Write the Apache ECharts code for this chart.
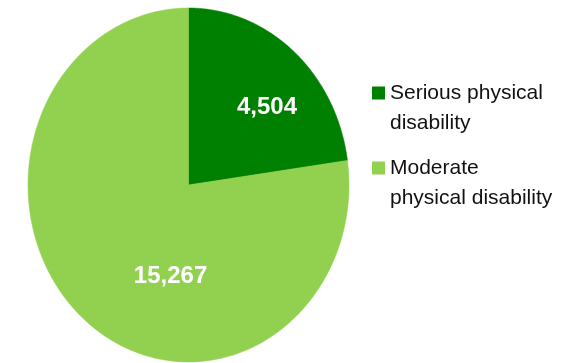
<!DOCTYPE html>
<html>
<head>
<meta charset="utf-8">
<script src="https://cdn.jsdelivr.net/npm/echarts@6/dist/echarts.min.js"></script>
<style>
  html, body { margin: 0; padding: 0; background: #fff; }
  #chart { width: 585px; height: 363px; }
</style>
</head>
<body>
<div id="chart"></div>
<script>
// Disability counts by severity
const categories = ['Serious physical\ndisability', 'Moderate\nphysical disability'];
const values = [4504, 15267];

// Slice colours and value-label anchors (unit-ellipse coordinates, x right / y up)
const sliceColors = ['#008000', '#92D050'];
const labelAnchors = [[0.489, 0.441], [-0.112, -0.514]];

const total = values.reduce((a, b) => a + b, 0);

// Angles measured clockwise from 12 o'clock, in radians
let acc = 0;
const slices = values.map(v => {
  const a0 = acc / total * Math.PI * 2;
  acc += v;
  const a1 = acc / total * Math.PI * 2;
  return [a0, a1, v];
});

function renderSlice(idx) {
  return function (params, api) {
    const a0 = api.value(0), a1 = api.value(1), v = api.value(2);
    const pts = [api.coord([0, 0])];
    const steps = Math.max(8, Math.ceil((a1 - a0) / (Math.PI / 360)));
    for (let k = 0; k <= steps; k++) {
      const t = a0 + (a1 - a0) * k / steps;
      pts.push(api.coord([Math.sin(t), Math.cos(t)]));
    }
    const lp = api.coord(labelAnchors[idx]);
    return {
      type: 'group',
      children: [
        {
          type: 'polygon',
          shape: { points: pts },
          style: { fill: sliceColors[idx], stroke: sliceColors[idx], lineWidth: 0.5 }
        },
        {
          type: 'text',
          x: lp[0],
          y: lp[1],
          z2: 10,
          style: {
            text: v.toLocaleString('en-US'),
            fill: '#ffffff',
            font: 'bold 24px "Liberation Sans", Arial, sans-serif',
            align: 'center',
            verticalAlign: 'middle'
          }
        }
      ]
    };
  };
}

const chart = echarts.init(document.getElementById('chart'), null, { renderer: 'canvas' });

chart.setOption({
  animation: false,
  backgroundColor: '#ffffff',
  grid: { left: 28, top: 8, width: 321, height: 354 },
  xAxis: { type: 'value', min: -1, max: 1, show: false },
  yAxis: { type: 'value', min: -1, max: 1, show: false },
  legend: {
    orient: 'vertical',
    left: 372,
    top: 48,
    padding: 0,
    itemWidth: 13,
    itemHeight: 13,
    itemGap: -15,
    icon: 'rect',
    selectedMode: false,
    data: categories,
    // leading blank line keeps the swatch level with the first text line
    formatter: name => '\n' + name,
    textStyle: {
      fontFamily: '"Liberation Sans", Arial, sans-serif',
      fontSize: 21,
      lineHeight: 30,
      color: '#111111'
    }
  },
  series: categories.map((name, i) => ({
    type: 'custom',
    name: name,
    clip: false,
    itemStyle: { color: sliceColors[i] },
    renderItem: renderSlice(i),
    data: [slices[i]]
  }))
});
</script>
</body>
</html>
